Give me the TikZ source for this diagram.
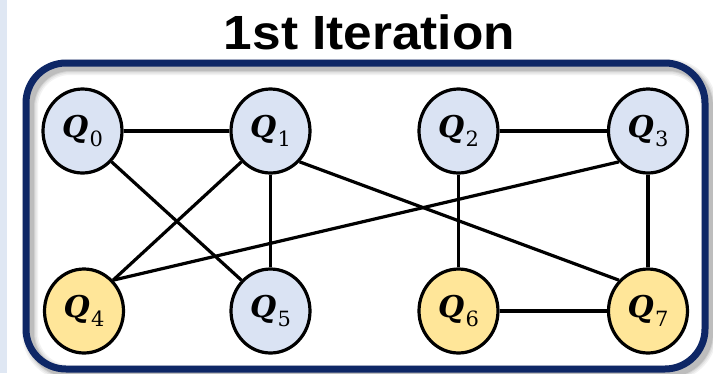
\documentclass[tikz,border=0pt]{standalone}
\usepackage{fontspec}
\newfontfamily\titlefont{Liberation Sans}
\newfontfamily\qfont{DejaVu Serif}
\usetikzlibrary{shapes.geometric}
\definecolor{qblue}{HTML}{DAE3F3}
\definecolor{qyellow}{HTML}{FFE699}
\definecolor{navy}{HTML}{0E2766}
\definecolor{stripblue}{HTML}{DFE7F3}
\newcommand{\qlab}[1]{{\fontsize{30}{32}\selectfont\bfseries\itshape Q}\kern1.5pt\raisebox{-9pt}{\fontsize{21}{22}\selectfont #1}}
\begin{document}
\begin{tikzpicture}[x=1pt,y=-1pt,
  qn/.style={ellipse, draw=black, line width=3.2pt, minimum width=79pt, minimum height=84pt, inner sep=0pt, font=\qfont},
  qb/.style={qn, fill=qblue},
  qy/.style={qn, fill=qyellow},
  edge/.style={line width=3.2pt, black},
  frame/.style={navy, line width=7pt, rounded corners=40pt}]
\useasboundingbox (0,0) rectangle (713,373);
\fill[stripblue] (0,0) rectangle (7,373);
% soft shadow of the frame
\foreach \w/\o in {16/0.05, 13/0.06, 10/0.08, 8/0.1}
  \draw[black, opacity=\o, line width=\w pt, rounded corners=40pt] (30,67) rectangle (709,373);
\draw[frame] (26,63) rectangle (705,369);
% title
\node[font=\titlefont\bfseries\fontsize{48}{50}\selectfont, anchor=base, inner sep=0pt] (title) at (369.5,49.3) {\scalebox{1.07}[1]{1st Iteration}};
% nodes
\node[qb] (q0) at (82.5,131) {\qlab{0}};
\node[qb] (q1) at (270.5,131) {\qlab{1}};
\node[qb] (q2) at (458.5,131) {\qlab{2}};
\node[qb] (q3) at (648,131) {\qlab{3}};
\node[qy] (q4) at (84,311) {\qlab{4}};
\node[qb] (q5) at (270.5,311) {\qlab{5}};
\node[qy] (q6) at (458.5,311) {\qlab{6}};
\node[qy] (q7) at (648,311) {\qlab{7}};
% edges
\draw[edge] (q0.east) -- (q1.west);
\draw[edge] (q0.south east) -- (q5.north west);
\draw[edge] (q1.south west) -- (q4.north east);
\draw[edge] (q1.south) -- (q5.north);
\draw[edge] (q1.south east) -- (q7.north west);
\draw[edge] (q2.east) -- (q3.west);
\draw[edge] (q2.south) -- (q6.north);
\draw[edge] (q3.south west) -- (q4.north east);
\draw[edge] (q3.south) -- (q7.north);
\draw[edge] (q6.east) -- (q7.west);
\end{tikzpicture}
\end{document}
